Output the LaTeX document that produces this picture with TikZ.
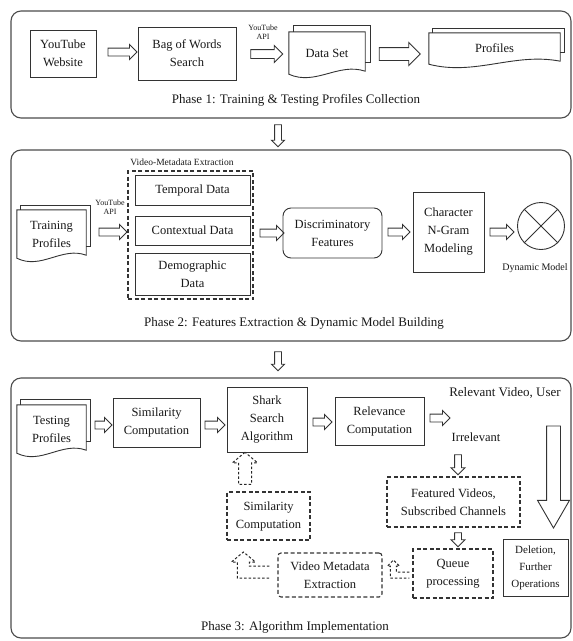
\documentclass[tikz,border=0pt]{standalone}
\usepackage{fontspec}
\setmainfont{Liberation Serif}
\usetikzlibrary{shapes.arrows,calc}
\tikzset{
  panel/.style={draw=black!70, line width=1.1pt, rounded corners=10pt},
  box/.style={draw=black!80, line width=0.9pt, align=center, inner sep=0pt, text=black!90, font=\fontsize{12.5}{18}\selectfont},
  dbox/.style={box, dash pattern=on 4pt off 2.5pt, line width=1.1pt},
  docnode/.style={align=center, inner sep=0pt, text=black!90, font=\fontsize{12.5}{18}\selectfont},
  docline/.style={draw=black!80, line width=0.9pt},
  harrow/.style={single arrow, draw=black!80, line width=0.9pt, inner xsep=0pt, inner ysep=3.5pt, minimum width=14pt, single arrow head extend=3.5pt, single arrow tip angle=90, fill=white},
  asize/.style n args={3}{inner ysep=#1, single arrow head extend=#2, minimum width=#3},
  lbl/.style={align=center, inner sep=0pt, text=black!90, font=\fontsize{12.5}{15}\selectfont},
  phaselbl/.style={inner sep=0pt, text=black!90, font=\fontsize{13}{15}\selectfont},
  smalllbl/.style={align=center, inner sep=0pt, text=black!90, font=\fontsize{8}{9}\selectfont},
  bentarrow/.style={draw=black!85, line width=1pt, dash pattern=on 2.5pt off 2pt},
}
\newcommand\docshape[3]{%
  \draw[docline] ($(#1.north west)+(#2,0)$) -- ($(#1.north west)+(#2,#3)$) -- ($(#1.north east)+(#2,#3)$) -- ($(#1.south east)+(#2,-12)$) -- ($(#1.south east)+(0,-12)$);
  \draw[docline] (#1.north west) -- (#1.south west)
    .. controls ($(#1.south west)!0.35!(#1.south east)+(0,12)$) and ($(#1.south west)!0.65!(#1.south east)+(0,-12)$) .. ($(#1.south east)+(0,-3)$)
    -- (#1.north east) -- cycle;
}
\begin{document}
\begin{tikzpicture}[x=1pt,y=-1pt]
\fill[white] (0,0) rectangle (573,641);
\useasboundingbox (0,0) rectangle (573,641);

% ---------- Panel 1 ----------
\draw[panel] (11,11) rectangle (571,118);
\node[box, minimum width=66pt, minimum height=47pt] (yw) at (63,53.5) {YouTube\\Website};
\node[harrow, minimum height=29pt] (a11) at (120.5,52) {};
\node[box, minimum width=98pt, minimum height=53pt] (bow) at (187,53.5) {Bag of Words\\Search};
\node[smalllbl] (api1) at (263,32) {YouTube\\API};
\node[harrow, asize={4pt}{4pt}{16pt}, minimum height=32pt] (a12) at (264.5,54) {};
\node[docnode, minimum width=76pt, minimum height=42pt] (ds) at (327,53) {Data Set};
\docshape{ds}{5}{-6}
\node[harrow, asize={6pt}{5pt}{22pt}, minimum height=41pt] (a13) at (396.5,54) {};
\node[docnode, minimum width=131pt, minimum height=31pt] (pr) at (494.5,48.5) {Profiles};
\docshape{pr}{4}{-4}
\node[phaselbl] (ph1) at (296,100) {Phase 1: Training \& Testing Profiles Collection};

\node[harrow, asize={3pt}{3pt}{12pt}, rotate=-90, minimum height=22pt] (d1) at (278,134) {};

% ---------- Panel 2 ----------
\draw[panel] (11,150) rectangle (571,341);
\node[docnode, minimum width=69pt, minimum height=48pt] (tp) at (51.5,234) {Training\\Profiles};
\docshape{tp}{4}{-4}
\node[smalllbl] (api2) at (110,207) {YouTube\\API};
\node[harrow, minimum height=28pt] (a21) at (111,232) {};
\node[dbox, minimum width=125pt, minimum height=128pt] (vme) at (190.5,235) {};
\node[lbl, font=\fontsize{9.5}{11}\selectfont] (vmel) at (182,162) {Video-Metadata Extraction};
\node[box, minimum width=115pt, minimum height=30pt] (tem) at (192.5,190) {Temporal Data};
\node[box, minimum width=115pt, minimum height=29pt] (con) at (192.5,230.5) {Contextual Data};
\node[box, minimum width=115pt, minimum height=42pt] (dem) at (192.5,274) {Demographic\\Data};
\node[harrow, minimum height=24pt] (a22) at (270,233) {};
\node[box, rounded corners=8pt, minimum width=99pt, minimum height=50pt] (df) at (332.5,233) {Discriminatory\\Features};
\node[harrow, minimum height=22pt] (a23) at (397,232) {};
\node[box, minimum width=71pt, minimum height=80pt] (cng) at (448.5,232) {Character\\N-Gram\\Modeling};
\node[harrow, minimum height=24pt] (a24) at (500,232) {};
\node[draw=black!80, line width=0.9pt, circle, minimum size=47pt, inner sep=0pt] (dm) at (541,226) {};
\draw[docline] (dm.north west) -- (dm.south east) (dm.north east) -- (dm.south west);
\node[lbl, font=\fontsize{10}{12}\selectfont] (dml) at (535,268) {Dynamic Model};
\node[phaselbl] (ph2) at (294,323) {Phase 2: Features Extraction \& Dynamic Model Building};

\node[harrow, asize={3pt}{3pt}{12pt}, rotate=-90, minimum height=19pt] (d2) at (278,359.5) {};

% ---------- Panel 3 ----------
\draw[panel] (11,378) rectangle (571,638);
\node[docnode, minimum width=69pt, minimum height=48pt] (tsp) at (51.5,429) {Testing\\Profiles};
\docshape{tsp}{4}{-5}
\node[harrow, minimum height=17pt] (a31) at (101.5,425) {};
\node[box, minimum width=87pt, minimum height=49pt] (sc) at (156.5,422.5) {Similarity\\Computation};
\node[harrow, minimum height=20pt] (a32) at (213,425) {};
\node[box, minimum width=80pt, minimum height=65pt] (ssa) at (267,419.5) {Shark\\Search\\Algorithm};
\node[harrow, minimum height=19pt] (a33) at (320.5,422) {};
\node[box, minimum width=89pt, minimum height=48pt] (rc) at (379.5,421) {Relevance\\Computation};
\node[harrow, minimum height=20pt] (a34) at (438,418) {};
\node[lbl, font=\fontsize{13}{15}\selectfont] (rel) at (505,393) {Relevant Video, User};
\node[lbl] (irr) at (476,437) {Irrelevant};
\node[harrow, asize={3pt}{3.5pt}{13pt}, rotate=-90, minimum height=20pt] (a35) at (458,463) {};
\node[dbox, minimum width=133pt, minimum height=50pt] (fv) at (453.5,502) {Featured Videos,\\Subscribed Channels};
\node[harrow, asize={3pt}{3.5pt}{13pt}, rotate=-90, minimum height=14pt] (a36) at (458,538) {};
\node[dbox, minimum width=80pt, minimum height=49pt] (qp) at (453,573.5) {Queue\\processing};
\node[box, minimum width=65pt, minimum height=57pt, font=\fontsize{11}{17}\selectfont] (del) at (535.5,567.5) {Deletion,\\Further\\Operations};
\node[harrow, asize={6.5pt}{9pt}{31pt}, rotate=-90, minimum height=102pt, single arrow tip angle=60] (big) at (553.5,471) {};
\node[dbox, minimum width=83pt, minimum height=48pt] (scd) at (268.5,516) {Similarity\\Computation};
\node[harrow, asize={6pt}{6pt}{24pt}, draw=black!85, line width=1pt, dash pattern=on 2.5pt off 2pt, rotate=90, minimum height=32pt, single arrow tip angle=100] (a37) at (245,471) {};
\node[dbox, rounded corners=3pt, minimum width=104pt, minimum height=44pt] (vm2) at (330,575) {Video Metadata\\Extraction};
\begin{scope}[shift={(vm2.west)}]
  \draw[bentarrow] (-8,-9) -- (-28,-9) -- (-28,-13) -- (-22,-13) -- (-34,-23) -- (-46,-13) -- (-40,-13) -- (-40,3) -- (-8,3);
\end{scope}
\begin{scope}[shift={(qp.west)}]
  \draw[bentarrow] (-3,-1.5) -- (-16,-1.5) -- (-16,-7.5) -- (-13,-7.5) -- (-19,-13.5) -- (-25,-7.5) -- (-22,-7.5) -- (-22,4.5) -- (-3,4.5);
\end{scope}
\node[phaselbl] (ph3) at (295,627) {Phase 3: Algorithm Implementation};
\end{tikzpicture}
\end{document}
